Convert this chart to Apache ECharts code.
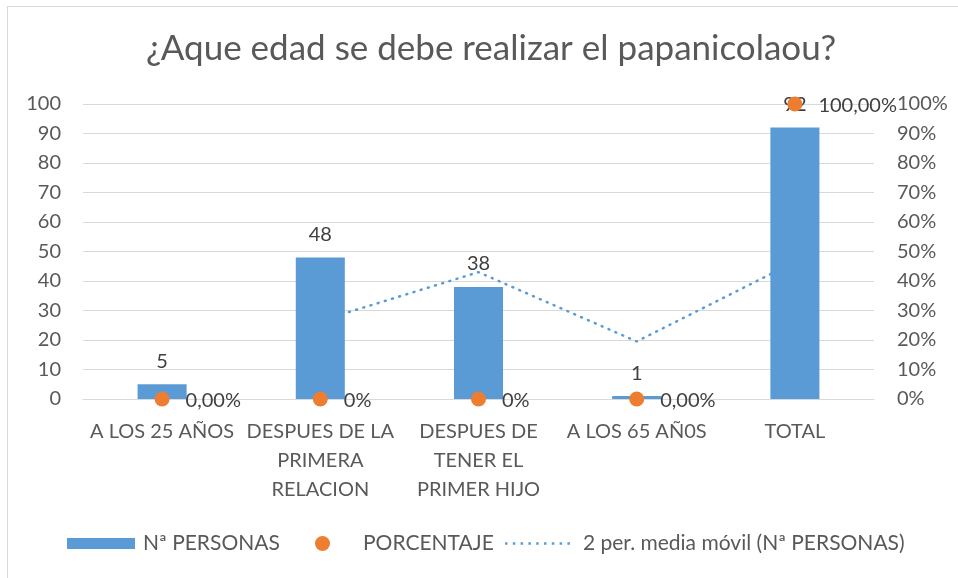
<!DOCTYPE html>
<html>
<head>
<meta charset="utf-8">
<script src="https://cdn.jsdelivr.net/npm/echarts@6/dist/echarts.min.js"></script>
<style>
  html, body { margin: 0; padding: 0; background: #fff; }
  #frame { position: absolute; left: 7px; top: 6px; width: 1000px; height: 1000px; border: 1px solid #D9D9D9; }
  #chart { position: absolute; left: 0; top: 0; width: 958px; height: 578px; }
</style>
</head>
<body>
<div id="frame"></div>
<div id="chart"></div>
<script>
// categorias del eje x
var categorias = ['A LOS 25 AÑOS', 'DESPUES DE LA\nPRIMERA\nRELACION', 'DESPUES DE\nTENER EL\nPRIMER HIJO', 'A LOS 65 AÑ0S', 'TOTAL'];
// numero de personas
var personas = [5, 48, 38, 1, 92];
// porcentaje (eje derecho)
var porcentaje = [0, 0, 0, 0, 1];
var porcentajeEtiquetas = ['0,00%', '0%', '0%', '0,00%', '100,00%'];
// media movil de 2 periodos
var mediaMovil = [null, 26.5, 43, 19.5, 46.5];

var fuente = 'Lato';
var gris = '#595959';
var tam = 20;

// icono de linea punteada para la leyenda
var puntos = 'path://';
for (var i = 0; i < 9; i++) {
  puntos += 'M' + (i * 7.8) + ',0h2.5v2.5h-2.5z';
}

var myChart = echarts.init(document.getElementById('chart'));
var option = {
  animation: false,
  textStyle: { fontFamily: fuente },
  title: {
    text: '¿Aque edad se debe realizar el papanicolaou?',
    left: 486,
    textAlign: 'center',
    top: 26,
    textStyle: { fontFamily: fuente, fontSize: 35, fontWeight: 'normal', color: gris }
  },
  legend: [
    {
      left: 67, top: 533, padding: 0, itemWidth: 68, itemHeight: 11,
      data: [{ name: 'Nª PERSONAS', icon: 'rect' }],
      textStyle: { fontFamily: fuente, fontSize: 21, color: gris, padding: [0, 0, 0, 3] }
    },
    {
      left: 315, top: 533, padding: 0, itemWidth: 15, itemHeight: 15,
      data: [{ name: 'PORCENTAJE', icon: 'circle' }],
      textStyle: { fontFamily: fuente, fontSize: 21, color: gris, padding: [0, 0, 0, 28] }
    },
    {
      left: 505, top: 533, padding: 0, itemWidth: 64.9, itemHeight: 2.5,
      data: [{ name: '2 per. media móvil (Nª PERSONAS)', icon: puntos }],
      textStyle: { fontFamily: fuente, fontSize: 21, color: gris, padding: [0, 0, 0, 8] }
    }
  ],
  grid: { left: 83, right: 84, top: 104, bottom: 179 },
  xAxis: {
    type: 'category',
    data: categorias,
    axisTick: { show: false },
    axisLine: { lineStyle: { color: '#D9D9D9', width: 1 } },
    axisLabel: { color: gris, fontSize: tam, fontFamily: fuente, lineHeight: 29, margin: 18, interval: 0 }
  },
  yAxis: [
    {
      type: 'value', min: 0, max: 100, interval: 10,
      axisLine: { show: false }, axisTick: { show: false },
      axisLabel: { color: gris, fontSize: tam, fontFamily: fuente, margin: 22 },
      splitLine: { lineStyle: { color: '#D9D9D9', width: 1 } }
    },
    {
      type: 'value', min: 0, max: 1, interval: 0.1,
      axisLine: { show: false }, axisTick: { show: false },
      axisLabel: {
        color: gris, fontSize: tam, fontFamily: fuente, margin: 23,
        formatter: function (v) { return Math.round(v * 100) + '%'; }
      },
      splitLine: { show: false }
    }
  ],
  series: [
    {
      name: 'Nª PERSONAS',
      type: 'bar',
      data: personas,
      barWidth: '31%',
      z: 3,
      itemStyle: { color: '#5B9BD5' },
      label: { show: true, position: 'top', distance: 13, fontSize: tam, color: '#404040', fontFamily: fuente }
    },
    {
      name: 'PORCENTAJE',
      type: 'scatter',
      yAxisIndex: 1,
      data: porcentaje,
      symbolSize: 15,
      z: 4,
      itemStyle: { color: '#ED7D31', opacity: 1 },
      label: {
        show: true, position: 'right', distance: 16, offset: [0, 2], fontSize: tam, color: '#404040', fontFamily: fuente,
        formatter: function (p) { return porcentajeEtiquetas[p.dataIndex]; }
      }
    },
    {
      name: '2 per. media móvil (Nª PERSONAS)',
      type: 'line',
      data: mediaMovil,
      symbol: 'none',
      z: 1,
      lineStyle: { color: '#5B9BD5', width: 2.5, type: [1, 6.5], cap: 'round' },
      itemStyle: { color: '#5B9BD5' }
    }
  ]
};
myChart.setOption(option);
</script>
</body>
</html>
